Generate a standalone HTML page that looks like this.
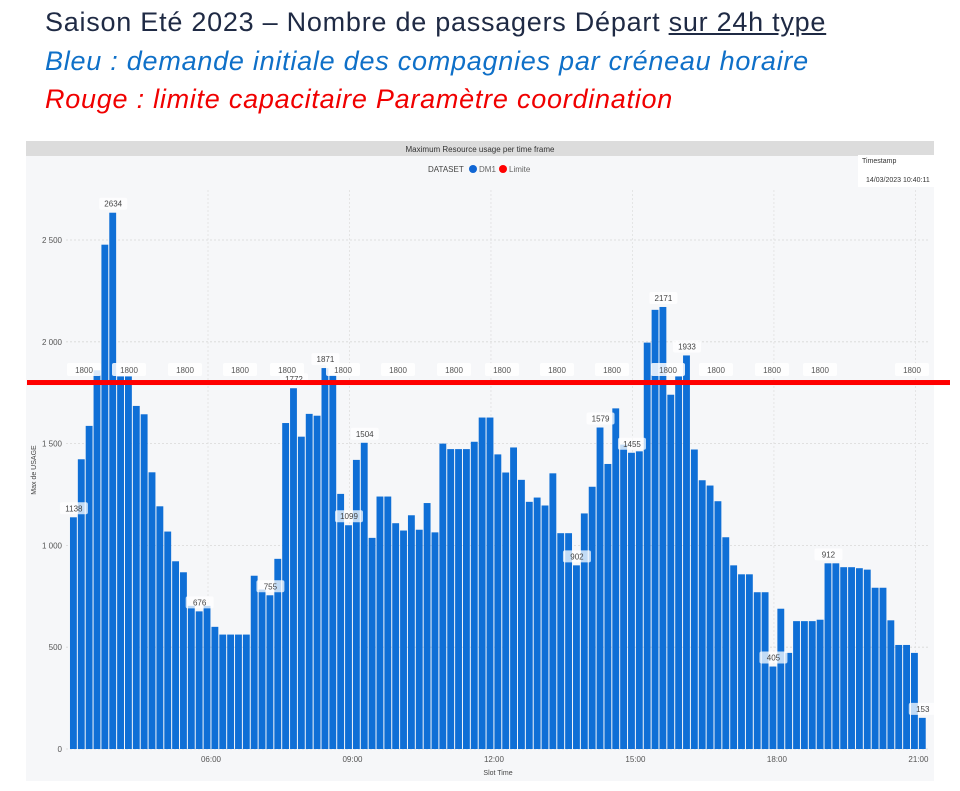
<!DOCTYPE html>
<html><head><meta charset="utf-8">
<style>
body{margin:0;width:960px;height:791px;background:#fff;overflow:hidden;font-family:"Liberation Sans",sans-serif;position:relative}
.t{position:absolute;left:45px;white-space:nowrap;font-size:27px;letter-spacing:0.75px}
</style></head><body>
<div class="t" style="top:7px;color:#1f2a44">Saison Eté 2023 – Nombre de passagers Départ <span style="text-decoration:underline">sur 24h type</span></div>
<div class="t" style="top:46px;color:#0f70c8;font-style:italic">Bleu : demande initiale des compagnies par créneau horaire</div>
<div class="t" style="top:84px;color:#f00000;font-style:italic">Rouge : limite capacitaire Paramètre coordination</div>
<svg id="chart" width="960" height="791" style="position:absolute;left:0;top:0" xmlns="http://www.w3.org/2000/svg"></svg>
<script>
const values=[1138,1423,1587,1860,2477,2634,1830,1830,1685,1644,1359,1192,1068,922,868,703,676,703,600,562,562,562,562,851,783,755,934,1601,1772,1534,1646,1637,1871,1836,1253,1099,1420,1504,
1037,1240,1240,1109,1073,1148,1077,1208,1064,1500,1473,1473,1473,1509,1628,1628,1447,1358,1481,1322,1214,1235,1196,1354,1060,1060,902,1157,1288,1579,1400,1673,1495,1455,1462,
1996,2157,2171,1740,1830,1933,1471,1320,1294,1217,1040,902,858,858,770,770,405,689,472,628,628,628,635,912,912,893,893,888,881,792,792,632,511,511,472,153];
const limitValue=1800;
const yTicks=[0,500,1000,1500,2000,2500];
const yTickLabels=["0","500","1 000","1 500","2 000","2 500"];
const xTickMinutes=[360,540,720,900,1080,1260];
const xTickLabels=["06:00","09:00","12:00","15:00","18:00","21:00"];
const labeledIdx=[0,5,16,25,28,32,35,37,64,67,71,75,78,89,96,108];
const limitLabelX=[84,129,185,240,287,343,398,454,502,557,612,668,716,772,820,912];
const startMinute=184.4, slotMin=10;
const svg=document.getElementById('chart');
const NS='http://www.w3.org/2000/svg';
const y=v=>749-v*0.2036;
const x=m=>208+(m-360)*0.786;
function mk(tag,attrs,txt){const e=document.createElementNS(NS,tag);for(const k in attrs)e.setAttribute(k,attrs[k]);if(txt!==undefined)e.textContent=txt;svg.appendChild(e);return e;}
let e;
e=mk('rect',{x:26,y:141,width:908,height:640,fill:'#f6f7f9'});

e=mk('rect',{x:26,y:141,width:908,height:15,fill:'#dcdcdc'});

e=mk('text',{x:480,y:152,'font-size':8,'text-anchor':'middle',fill:'#333'},'Maximum Resource usage per time frame');

e=mk('text',{x:428,y:172,'font-size':8,fill:'#444'},'DATASET');

e=mk('circle',{cx:473,cy:169,r:4,fill:'#1066d4'});

e=mk('text',{x:479,y:172,'font-size':8,fill:'#666'},'DM1');

e=mk('circle',{cx:503,cy:169,r:4,fill:'#f00'});

e=mk('text',{x:509,y:172,'font-size':8,fill:'#666'},'Limite');

e=mk('rect',{x:858,y:155,width:76,height:32,fill:'#fff'});

e=mk('text',{x:862,y:163,'font-size':7,fill:'#333'},'Timestamp');

e=mk('text',{x:866,y:182,'font-size':7,fill:'#333'},'14/03/2023 10:40:11');

yTicks.forEach((v,i)=>{
  e=mk('line',{x1:66,x2:930,y1:y(v),y2:y(v),stroke:'#d8d8d8','stroke-dasharray':'2,2','stroke-width':0.8});
  
  e=mk('text',{x:62,y:y(v)+3,'font-size':8,'text-anchor':'end',fill:'#555'},yTickLabels[i]);
  
});
xTickMinutes.forEach((m,i)=>{
  e=mk('line',{x1:x(m),x2:x(m),y1:190,y2:749,stroke:'#e0e0e0','stroke-dasharray':'2,2','stroke-width':0.8});
  
  e=mk('text',{x:x(m)+3,y:762,'font-size':8,'text-anchor':'middle',fill:'#555'},xTickLabels[i]);
  
});
e=mk('text',{x:36,y:470,'font-size':7,'text-anchor':'middle',fill:'#444',transform:'rotate(-90 36 470)'},'Max de USAGE');

e=mk('text',{x:498,y:775,'font-size':7,'text-anchor':'middle',fill:'#444'},'Slot Time');

const pitch=slotMin*0.786;
values.forEach((v,i)=>{
  const bx=x(startMinute+i*slotMin);
  const b=mk('rect',{x:bx,y:y(v),width:pitch-1,height:749-y(v),fill:'#0f6fd6'});
  
  
});
limitLabelX.forEach(lx=>{
  e=mk('rect',{x:lx-17,y:363,width:34,height:13,fill:'#fff',opacity:0.85,rx:2});
  
  e=mk('text',{x:lx,y:373,'font-size':8,'text-anchor':'middle',fill:'#555'},String(limitValue));
  
});
labeledIdx.forEach(i=>{
  const cx=x(startMinute+i*slotMin)+pitch/2;
  const ty=y(values[i])-6;
  e=mk('rect',{x:cx-14,y:ty-9,width:28,height:12,fill:'#fff',opacity:0.75,rx:2});
  
  e=mk('text',{x:cx,y:ty,'font-size':8,'text-anchor':'middle',fill:'#444'},String(values[i]));
  
});
e=mk('rect',{x:27,y:y(limitValue)-2.5,width:923,height:5,fill:'#ff0000'});

</script>
</body></html>
